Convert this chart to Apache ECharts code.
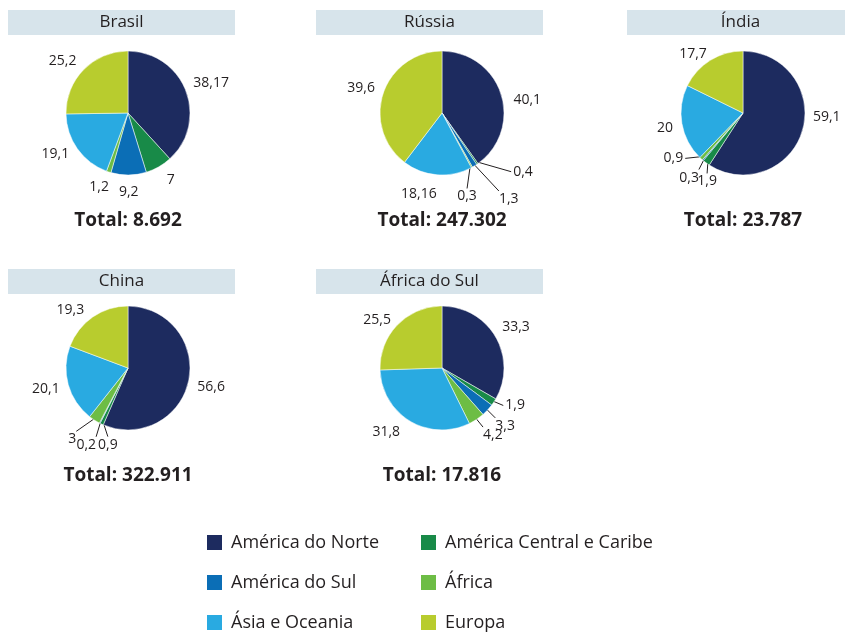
<!DOCTYPE html>
<html>
<head>
  <meta charset="UTF-8">
  <title>Exportações por destino</title>
  <script src="https://cdn.jsdelivr.net/npm/echarts@6/dist/echarts.min.js"></script>
  <style>
    html, body { margin: 0; padding: 0; background: #fff; }
  </style>
</head>
<body>
  <div id="chart" style="width: 845px;height:633px;"></div>
  <script type="text/javascript">
    // regiões de destino (ordem horária a partir do topo)
    const regions = ['América do Norte', 'América Central e Caribe', 'América do Sul', 'África', 'Ásia e Oceania', 'Europa'];
    const colors = ['#1d2b5f', '#188a48', '#0b6eb6', '#6dbd45', '#29aae1', '#b8cc2e'];

    const countries = ['Brasil', 'Rússia', 'Índia', 'China', 'África do Sul'];
    const totals = ['8.692', '247.302', '23.787', '322.911', '17.816'];

    const brasil = [38.17, 7, 9.2, 1.2, 19.1, 25.2];
    const russia = [40.1, 0.4, 1.3, 0.3, 18.16, 39.6];
    const india = [59.1, 1.9, 0.3, 0.9, 20, 17.7];
    const china = [56.6, 0.9, 0.2, 3, 20.1, 19.3];
    const africaSul = [33.3, 1.9, 3.3, 4.2, 31.8, 25.5];
    const values = [brasil, russia, india, china, africaSul];

    const centers = [[128, 113], [442, 113], [743, 113], [128, 368], [442, 368]];
    const headers = [[8, 10], [316, 10], [627, 10], [8, 269], [316, 269]];
    const totalY = [221, 221, 221, 476, 476];
    const radius = 62;

    // linhas de chamada das fatias pequenas: {índice: [direção em graus, comprimento]}
    const leaders = [
      {},
      { 1: [16, 37], 2: [47, 38], 3: [98, 24] },
      { 1: [94, 13], 2: [117, 13], 3: [174, 18] },
      { 1: [72, 16], 2: [107, 17], 3: [145, 24] },
      { 1: [23, 13], 2: [45, 14], 3: [51, 13] }
    ];
    // pequenos ajustes de posição dos rótulos externos: {índice: [dx, dy]}
    const nudges = [
      { 1: [4, -3], 3: [-4, -4], 4: [-3, -10], 5: [-5, 6] },
      { 0: [4, 11], 4: [-17, 1] },
      { 0: [2, -22], 5: [-6, 10] },
      { 4: [0, -4], 5: [-10, 9] },
      { 4: [-13, -9], 5: [-4, 9] }
    ];

    const rad = d => d * Math.PI / 180;

    // direção radial (tela) do meio da fatia
    function midDir(c, i) {
      const vals = values[c];
      const sum = vals.reduce((a, b) => a + b, 0);
      let cum = 0;
      for (let k = 0; k < i; k++) cum += vals[k];
      const a = rad((cum + vals[i] / 2) / sum * 360);
      return [Math.sin(a), -Math.cos(a)];
    }

    function labelLayout(params) {
      const c = params.seriesIndex, i = params.dataIndex;
      const ctr = centers[c];
      const dir = midDir(c, i);
      const w = params.labelRect.width, h = params.labelRect.height;
      const lead = leaders[c][i];
      if (!lead) {
        const d = radius + 8 + Math.abs(dir[0]) * w / 2 + Math.abs(dir[1]) * h / 2;
        const n = nudges[c][i] || [0, 0];
        return {
          x: ctr[0] + dir[0] * d + n[0],
          y: ctr[1] + dir[1] * d + 2 + n[1],
          align: 'center',
          verticalAlign: 'middle'
        };
      }
      const s = [ctr[0] + dir[0] * (radius - 3), ctr[1] + dir[1] * (radius - 3)];
      const cs = Math.cos(rad(lead[0])), sn = Math.sin(rad(lead[0]));
      const e = [s[0] + cs * lead[1], s[1] + sn * lead[1]];
      const align = cs < -0.25 ? 'right' : (cs > 0.4 ? 'left' : 'center');
      const middle = Math.abs(sn) < 0.5;
      let x = e[0], y = e[1];
      if (middle) x += align === 'left' ? 2 : -2;
      else y += h / 2 + 1;
      return {
        x: x,
        y: y,
        align: align,
        verticalAlign: 'middle',
        labelLinePoints: [s, e, e]
      };
    }

    const myChart = echarts.init(document.getElementById('chart'));

    const series = values.map((vals, c) => ({
      type: 'pie',
      name: countries[c],
      center: centers[c],
      radius: radius,
      startAngle: 90,
      clockwise: true,
      silent: true,
      avoidLabelOverlap: false,
      minShowLabelAngle: 0,
      itemStyle: { borderColor: '#fff', borderWidth: 0.5 },
      label: {
        show: true,
        position: 'outside',
        color: '#231f20',
        fontSize: 14,
        fontFamily: 'Open Sans',
        overflow: 'none',
        formatter: p => String(p.value).replace('.', ',')
      },
      labelLine: { show: false, length: 4, length2: 4 },
      labelLayout: labelLayout,
      data: vals.map((v, i) => ({
        name: regions[i],
        value: v,
        itemStyle: { color: colors[i] },
        labelLine: leaders[c][i]
          ? { show: true, lineStyle: { color: '#231f20', width: 1 } }
          : { show: false }
      }))
    }));

    const graphics = [];
    countries.forEach((name, c) => {
      graphics.push({
        type: 'rect',
        shape: { x: headers[c][0], y: headers[c][1], width: 227, height: 25 },
        style: { fill: '#d7e4eb' },
        silent: true
      });
      graphics.push({
        type: 'text',
        x: headers[c][0] + 113.5,
        y: headers[c][1] + 12.5,
        style: {
          text: name, fill: '#231f20', fontSize: 17, fontFamily: 'Open Sans',
          align: 'center', verticalAlign: 'middle'
        },
        silent: true
      });
      graphics.push({
        type: 'text',
        x: centers[c][0],
        y: totalY[c],
        style: {
          text: 'Total: ' + totals[c], fill: '#231f20', fontSize: 19, fontWeight: 'bold',
          fontFamily: 'Open Sans', align: 'center', verticalAlign: 'middle'
        },
        silent: true
      });
    });

    // legenda em duas colunas, três linhas
    const legends = regions.map((r, i) => ({
      left: i % 2 === 0 ? 205 : 419,
      top: 533 + Math.floor(i / 2) * 40,
      padding: 0,
      icon: 'rect',
      itemWidth: 17,
      itemHeight: 17,
      selectedMode: false,
      data: [r],
      textStyle: { fontSize: 18, color: '#231f20', fontFamily: 'Open Sans', padding: [0, 0, 0, 3] }
    }));

    const option = {
      animation: false,
      color: colors,
      legend: legends,
      graphic: graphics,
      series: series
    };
    myChart.setOption(option);
  </script>
</body>
</html>
